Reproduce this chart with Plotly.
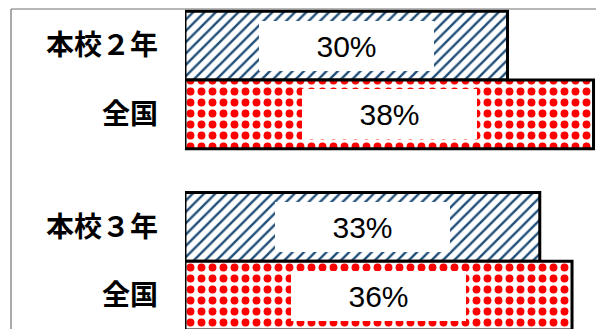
import plotly.graph_objects as go

# ---- data ----
school_labels = ["本校２年", "本校３年"]
national_label = "全国"
school_values = [30, 33]      # %
national_values = [38, 36]    # %

# ---- layout helpers ----
group_step = 2.635  # distance between the two grade groups (in bar widths)
school_pos = [g * group_step for g in range(len(school_values))]
national_pos = [p + 1 for p in school_pos]

tick_vals = []
tick_text = []
for sp, np_, sl in zip(school_pos, national_pos, school_labels):
    tick_vals += [sp, np_]
    tick_text += [sl, national_label]

fig = go.Figure()

fig.add_trace(go.Bar(
    x=school_values, y=school_pos, orientation="h", width=1,
    marker=dict(
        color="white",
        line=dict(color="black", width=3),
        pattern=dict(shape="/", fgcolor="#1F4E79", bgcolor="white",
                     size=8, solidity=0.3, fillmode="replace"),
    ),
    showlegend=False, hoverinfo="skip",
))
fig.add_trace(go.Bar(
    x=national_values, y=national_pos, orientation="h", width=1,
    marker=dict(
        color="white",
        line=dict(color="black", width=3),
        pattern=dict(shape=".", fgcolor="#FF0000", bgcolor="white",
                     size=11, solidity=0.4, fillmode="replace"),
    ),
    showlegend=False, hoverinfo="skip",
))

annotations = []
for vals, poss in ((school_values, school_pos), (national_values, national_pos)):
    for v, p in zip(vals, poss):
        annotations.append(dict(
            x=v / 2, y=p, xref="x", yref="y", text=f"{v}%",
            showarrow=False, bgcolor="white", width=175, height=50,
            borderpad=0, borderwidth=0,
            font=dict(family="Liberation Sans, Arial, sans-serif", size=30, color="black"),
        ))

L, R, T, B, W, H = 185, 0, 9, 0, 596, 329
pw = W - L - R
ph = H - T - B
fx = lambda px: (px - L) / pw
fy = lambda py: 1 - (py - T) / ph

fig.update_layout(
    width=W, height=H,
    margin=dict(l=L, r=R, t=T, b=B, pad=0),
    paper_bgcolor="white", plot_bgcolor="white",
    barmode="overlay",
    xaxis=dict(range=[0, 38.23], visible=False, fixedrange=True),
    yaxis=dict(range=[4.12, -0.533], tickvals=tick_vals, ticktext=tick_text,
               showgrid=False, zeroline=False, showline=False, ticks="",
               ticklabelstandoff=26,
               tickfont=dict(family="Noto Sans CJK JP", size=28, color="black",
                             weight="bold")),
    annotations=annotations,
    shapes=[
        dict(type="line", xref="paper", yref="paper", x0=fx(11), x1=fx(600),
             y0=fy(9), y1=fy(9), line=dict(color="#707070", width=1.2)),
        dict(type="line", xref="paper", yref="paper", x0=fx(11), x1=fx(11),
             y0=fy(9), y1=fy(340), line=dict(color="#707070", width=1.2)),
    ],
    showlegend=False,
)

fig.write_html("out.html")
